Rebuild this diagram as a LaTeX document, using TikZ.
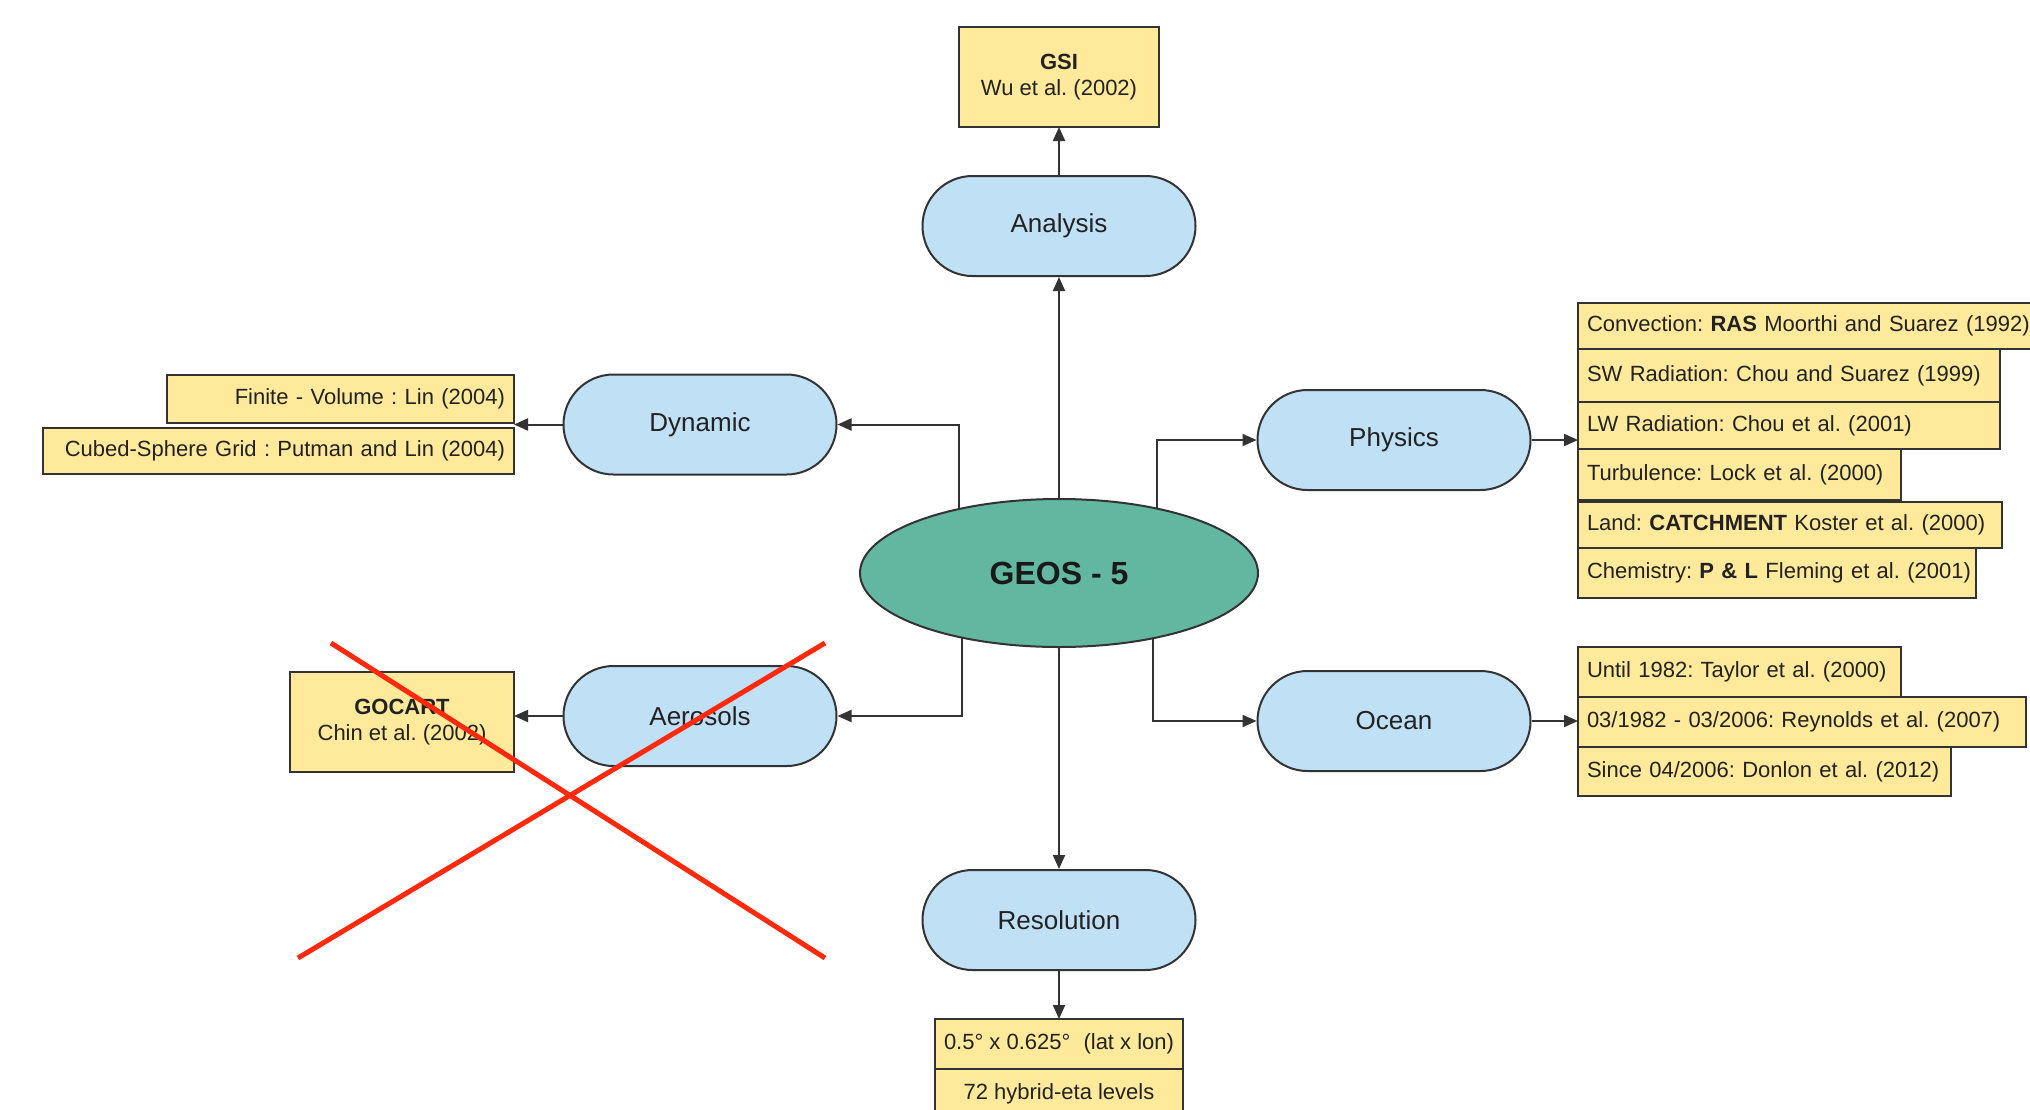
\documentclass[tikz,border=0pt]{standalone}
\usepackage{fontspec}
\setmainfont{Liberation Sans}
\usetikzlibrary{arrows.meta,calc,shapes.geometric}
\definecolor{ylw}{HTML}{FFE99B}
\definecolor{blu}{HTML}{C0E0F6}
\definecolor{grn}{HTML}{62B7A1}
\definecolor{edgec}{HTML}{333333}
\definecolor{xred}{HTML}{FF2A0E}
\definecolor{txt}{HTML}{222222}
\pgfdeclarelayer{back}
\pgfdeclarelayer{bg}
\pgfsetlayers{back,bg,main}
\frenchspacing
\begin{document}
\begin{tikzpicture}[x=1pt,y=-1pt,
  ybox/.style={draw=edgec,fill=ylw,line width=2.4pt,anchor=north west,inner xsep=9pt,inner ysep=0pt,
    outer sep=0pt,font=\fontsize{22}{26}\selectfont,text=txt},
  pill/.style={draw=edgec,fill=blu,line width=2pt,rounded corners=50pt,minimum width=273pt,
    minimum height=100pt,inner sep=0pt,font=\fontsize{26}{30}\selectfont,text=txt},
  arr/.style={draw=edgec,line width=2pt,-{Triangle[length=14pt,width=12pt]}},
]
\useasboundingbox (0,0) rectangle (2030,1109);
\begin{pgfonlayer}{back}
\fill[white] (0,0) rectangle (2030,1109);
\end{pgfonlayer}

% central column
\node[ybox,minimum width=200pt,minimum height=100pt,align=center] (gsi) at (959,27) {\textbf{GSI}\\Wu et al. (2002)};
\node[pill] (ana) at (1059,226) {Analysis};
\node[draw=edgec,fill=grn,ellipse,line width=2pt,minimum width=398pt,minimum height=148pt,inner sep=0pt,
  font=\fontsize{32}{36}\selectfont\bfseries,text=black!90] (geos) at (1059,573) {GEOS - 5};
\node[pill] (res) at (1059,920) {Resolution};
\node[ybox,minimum width=248pt,minimum height=50pt,align=center] (r1) at (935,1019) {0.5° x 0.625°\hspace{7pt} (lat x lon)};
\node[ybox,minimum width=248pt,minimum height=50pt,align=center] (r2) at (935,1069) {72 hybrid-eta levels};

% left side
\node[pill] (dyn) at (700,424.5) {Dynamic};
\node[ybox,text width=329pt,minimum height=48pt,align=right] (fin) at (167,375) {\mbox{Finite - Volume : Lin (2004)}};
\node[ybox,text width=453pt,minimum height=46pt,align=right] (cub) at (43,428) {\mbox{Cubed-Sphere Grid : Putman and Lin (2004)}};
\node[pill] (aero) at (700,716) {Aerosols};
\node[ybox,minimum width=224pt,minimum height=100pt,align=center] (goc) at (290,672) {\textbf{GOCART}\\Chin et al. (2002)};

% right side
\node[pill] (phys) at (1394,440) {Physics};
\node[ybox,text width=450pt,minimum height=46pt,align=left] (conv) at (1578,303) {\mbox{Convection: \textbf{RAS} Moorthi and Suarez (1992)}};
\node[ybox,text width=404pt,minimum height=53pt,align=left] (sw) at (1578,349) {\mbox{SW Radiation: Chou and Suarez (1999)}};
\node[ybox,text width=404pt,minimum height=47pt,align=left] (lw) at (1578,402) {\mbox{LW Radiation: Chou et al. (2001)}};
\node[ybox,text width=305pt,minimum height=51pt,align=left] (turb) at (1578,449) {\mbox{Turbulence: Lock et al. (2000)}};
\node[ybox,text width=406pt,minimum height=46pt,align=left] (land) at (1578,502) {\mbox{Land: \textbf{CATCHMENT} Koster et al. (2000)}};
\node[ybox,text width=380pt,minimum height=50pt,align=left] (chem) at (1578,548) {\mbox{Chemistry: \textbf{P \& L} Fleming et al. (2001)}};

\node[pill] (ocean) at (1394,721) {Ocean};
\node[ybox,text width=305pt,minimum height=50pt,align=left] (until) at (1578,647) {\mbox{Until 1982: Taylor et al. (2000)}};
\node[ybox,text width=430pt,minimum height=50pt,align=left] (rey) at (1578,697) {\mbox{03/1982 - 03/2006: Reynolds et al. (2007)}};
\node[ybox,text width=355pt,minimum height=49pt,align=left] (since) at (1578,747) {\mbox{Since 04/2006: Donlon et al. (2012)}};

\begin{pgfonlayer}{bg}
\draw[arr] (geos.north) -- (ana.south);
\draw[arr] (ana.north) -- (ana.north |- gsi.south);
\draw[arr] (geos.south) -- (res.north);
\draw[arr] (res.south) -- (res.south |- r1.north);
\draw[arr] ($(geos.center)+(-100,0)$) |- (dyn.east);
\draw[arr] ($(geos.center)+(98,0)$) |- (phys.west);
\draw[arr] ($(geos.center)+(-97,0)$) |- (aero.east);
\draw[arr] ($(geos.center)+(94,0)$) |- (ocean.west);
\draw[arr] (dyn.west) -- (dyn.west -| fin.east);
\draw[arr] (phys.east) -- (phys.east -| lw.west);
\draw[arr] (aero.west) -- (aero.west -| goc.east);
\draw[arr] (ocean.east) -- (ocean.east -| rey.west);
\end{pgfonlayer}

% crossing out
\draw[xred,line width=5pt] (331,643) -- (825,958) (825,643) -- (298,958);
\end{tikzpicture}
\end{document}
